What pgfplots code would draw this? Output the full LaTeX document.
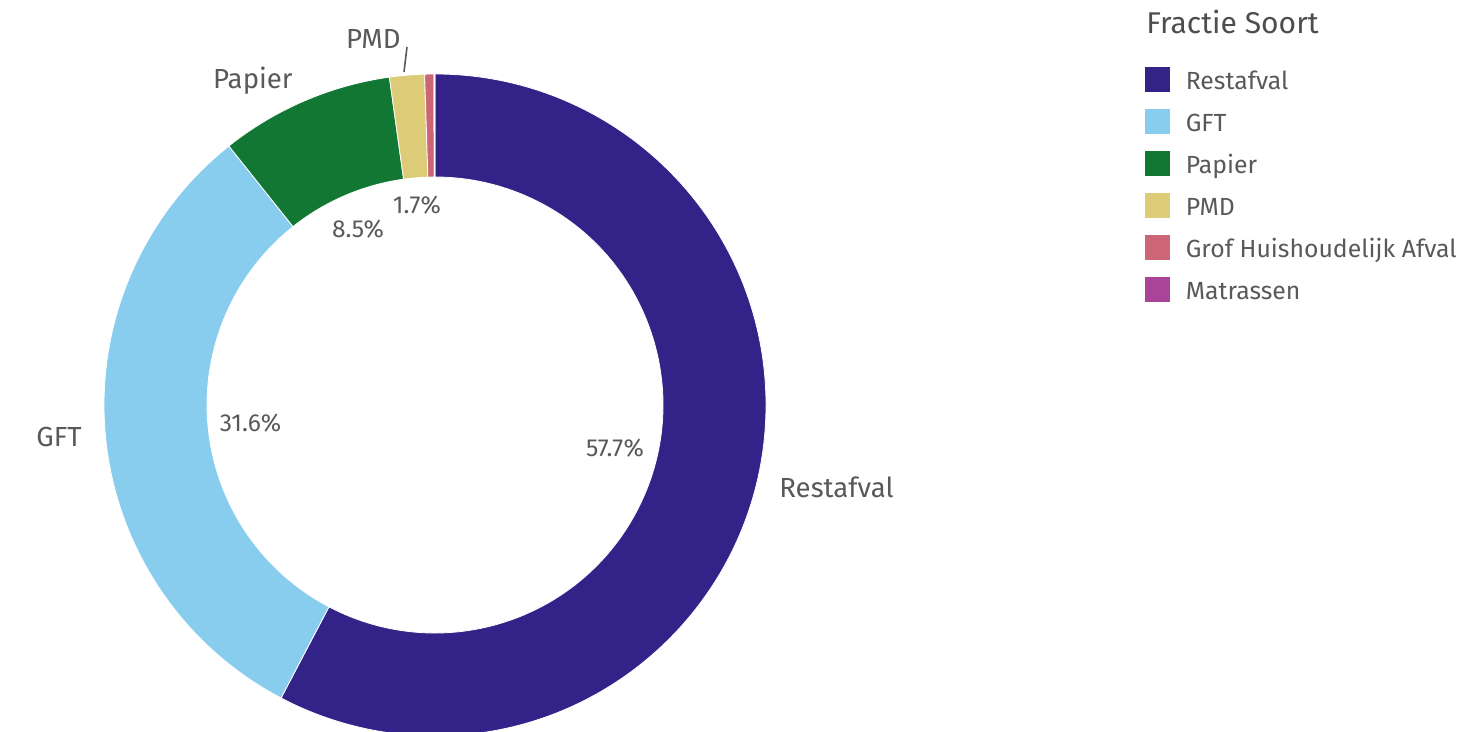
\documentclass[border=0pt]{standalone}
\usepackage{pgfplots}
\pgfplotsset{compat=1.18}
\usepackage{fontspec}
\setmainfont{Fira Sans}
\definecolor{cRest}{HTML}{332288}
\definecolor{cGFT}{HTML}{88CCEE}
\definecolor{cPap}{HTML}{117733}
\definecolor{cPMD}{HTML}{DDCC77}
\definecolor{cGrof}{HTML}{CC6677}
\definecolor{cMat}{HTML}{AA4499}
\definecolor{txt}{HTML}{595959}
\definecolor{ttl}{HTML}{4D4D4D}
% shares in percent
\def\vRest{57.7}
\def\vGFT{31.6}
\def\vPap{8.5}
\def\vPMD{1.7}
\def\vGrof{0.45}
\def\vMat{0.05}
\pgfmathsetmacro\cA{\vRest}
\pgfmathsetmacro\cB{\cA+\vGFT}
\pgfmathsetmacro\cC{\cB+\vPap}
\pgfmathsetmacro\cD{\cC+\vPMD}
\pgfmathsetmacro\cE{\cD+\vGrof}
\pgfmathsetmacro\cF{\cE+\vMat}
% slice: start pct, end pct, colour
\newcommand\slice[3]{%
  \fill[#3, draw=white, line width=0.4pt]
    (axis cs:{435+331*cos(90-3.6*#1)},{-405+331*sin(90-3.6*#1)})
    arc[start angle={90-3.6*#1}, end angle={90-3.6*#2}, radius=165.5pt]
    -- (axis cs:{435+228*cos(90-3.6*#2)},{-405+228*sin(90-3.6*#2)})
    arc[start angle={90-3.6*#2}, end angle={90-3.6*#1}, radius=114pt]
    -- cycle;}
\begin{document}
\begin{tikzpicture}
\begin{axis}[
  hide axis, scale only axis,
  width=730pt, height=366pt,
  xmin=0, xmax=1460, ymin=-732, ymax=0,
  clip=false,
  legend image code/.code={\fill[#1] (0pt,-0.7pt) rectangle (12pt,11.3pt);},
  legend style={at={(axis cs:1145,-66.7)}, anchor=north west,
    draw=none, fill=none, inner sep=0pt, outer sep=0pt,
    row sep=6.5pt, column sep=8pt,
    font=\fontsize{12.4}{15}\selectfont, text=txt,
    nodes={inner sep=0pt, text height=10pt, text depth=3pt},
    cells={anchor=base west}},
]
\slice{0}{\cA}{cRest}
\slice{\cA}{\cB}{cGFT}
\slice{\cB}{\cC}{cPap}
\slice{\cC}{\cD}{cPMD}
\slice{\cD}{\cE}{cGrof}
\slice{\cE}{\cF}{cMat}

\addlegendimage{cRest}\addlegendentry{Restafval}
\addlegendimage{cGFT}\addlegendentry{GFT}
\addlegendimage{cPap}\addlegendentry{Papier}
\addlegendimage{cPMD}\addlegendentry{PMD}
\addlegendimage{cGrof}\addlegendentry{Grof Huishoudelijk Afval}
\addlegendimage{cMat}\addlegendentry{Matrassen}

% outer labels
\begin{scope}[every node/.style={text=txt, font=\fontsize{13.8}{16}\selectfont, inner sep=0pt}]
\node[anchor=base west] at (axis cs:779,-498) {Restafval};
\node[anchor=base east] at (axis cs:82,-447) {GFT};
\node[anchor=base east] at (axis cs:293,-89) {Papier};
\node[anchor=base east] at (axis cs:401,-49) {PMD};
\end{scope}
\draw[txt, line width=0.8pt] (axis cs:404,-72) -- (axis cs:407,-47);
% percentage labels
\begin{scope}[every node/.style={text=txt, font=\fontsize{12.3}{14}\selectfont, inner sep=0pt}]
\node[anchor=base] at (axis cs:615,-457) {57.7\%};
\node[anchor=base] at (axis cs:250.5,-431.5) {31.6\%};
\node[anchor=base] at (axis cs:358,-237.5) {8.5\%};
\node[anchor=base] at (axis cs:417,-213.5) {1.7\%};
\end{scope}
% legend title
\node[anchor=base west, inner sep=0pt, text=ttl, font=\fontsize{15}{18}\selectfont] at (axis cs:1146,-33.3) {Fractie Soort};
\end{axis}
\pgfresetboundingbox
\useasboundingbox (current axis.south west) rectangle (current axis.north east);
\end{tikzpicture}
\end{document}
